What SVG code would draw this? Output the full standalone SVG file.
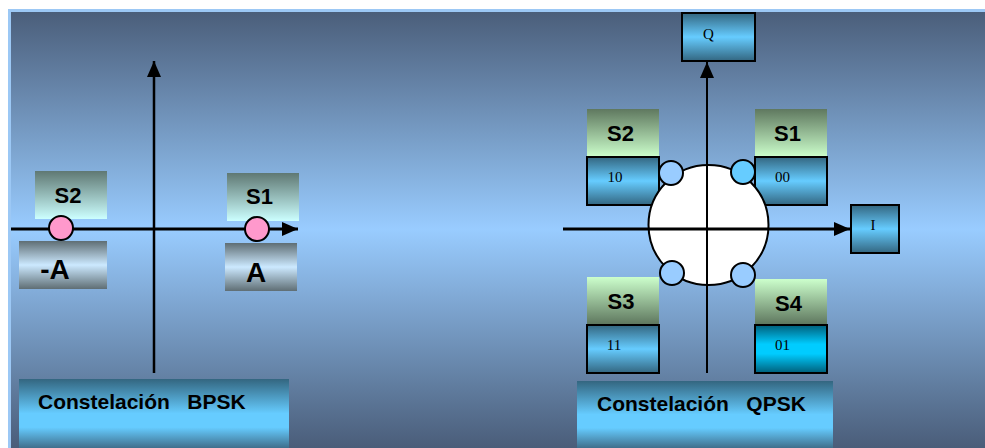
<svg xmlns="http://www.w3.org/2000/svg" width="985" height="448" viewBox="0 0 985 448">
<style>
.lbl{font-family:"Liberation Sans",Arial,sans-serif;font-weight:bold;fill:#000;text-anchor:middle}
.s{font-size:22px}
.big{font-size:28px}
.title{font-family:"Liberation Sans",Arial,sans-serif;font-weight:bold;font-size:21px;fill:#000}
.num{font-family:"Liberation Serif","Times New Roman",serif;font-size:15px;fill:#000;text-anchor:middle}
.code{stroke:#000;stroke-width:2}
.axis{stroke:#000;fill:none}
.dot{stroke:#000;stroke-width:2}
</style>
<defs>
<linearGradient id="bg" x1="0" y1="10" x2="0" y2="448" gradientUnits="userSpaceOnUse">
<stop offset="0" stop-color="#4a5d79"/>
<stop offset="0.5" stop-color="#99ccff"/>
<stop offset="1" stop-color="#4a5d79"/>
</linearGradient>
<linearGradient id="sTeal" x1="0" y1="0" x2="0" y2="1">
<stop offset="0" stop-color="#5f7873"/>
<stop offset="1" stop-color="#ccffff"/>
</linearGradient>
<linearGradient id="amp" x1="0" y1="0" x2="0" y2="1">
<stop offset="0" stop-color="#5f6e74"/>
<stop offset="0.5" stop-color="#cce9ff"/>
<stop offset="1" stop-color="#5f6e74"/>
</linearGradient>
<linearGradient id="sGreenDown" x1="0" y1="0" x2="0" y2="1">
<stop offset="0" stop-color="#5f785f"/>
<stop offset="1" stop-color="#ccffcc"/>
</linearGradient>
<linearGradient id="sGreenUp" x1="0" y1="0" x2="0" y2="1">
<stop offset="0" stop-color="#ccffcc"/>
<stop offset="1" stop-color="#5f785f"/>
</linearGradient>
<linearGradient id="blue" x1="0" y1="0" x2="0" y2="1">
<stop offset="0" stop-color="#336680"/>
<stop offset="0.5" stop-color="#66ccff"/>
<stop offset="1" stop-color="#336680"/>
</linearGradient>
<linearGradient id="cyan" x1="0" y1="0" x2="0" y2="1">
<stop offset="0" stop-color="#005f7a"/>
<stop offset="0.4" stop-color="#00ccff"/>
<stop offset="0.6" stop-color="#00ccff"/>
<stop offset="1" stop-color="#005f7a"/>
</linearGradient>
<linearGradient id="titleG" x1="0" y1="0" x2="0" y2="1">
<stop offset="0" stop-color="#336680"/>
<stop offset="0.5" stop-color="#66ccff"/>
<stop offset="0.7" stop-color="#66ccff"/>
<stop offset="1" stop-color="#3f6f8c"/>
</linearGradient>
<marker id="arr" viewBox="0 0 16 14" refX="16" refY="7" markerWidth="16" markerHeight="14" markerUnits="userSpaceOnUse" orient="auto">
<path d="M0,0 L16,7 L0,14 Z" fill="#000"/>
</marker>
</defs>

<rect x="0" y="0" width="985" height="448" fill="#fff"/>
<rect x="9.5" y="10.5" width="980" height="445" fill="url(#bg)" stroke="#9cc8f5" stroke-width="3"/>

<!-- BPSK nodes -->
<g id="bpsk-s2"><rect x="35" y="171" width="72" height="48" fill="url(#sTeal)"/><text class="lbl s" x="68" y="203">S2</text></g>
<g id="bpsk-s1"><rect x="227" y="173" width="72" height="48" fill="url(#sTeal)"/><text class="lbl s" x="259.5" y="204">S1</text></g>
<g id="bpsk-minusA"><rect x="19" y="241" width="88" height="48" fill="url(#amp)"/><text class="lbl big" x="55" y="279">-A</text></g>
<g id="bpsk-A"><rect x="225" y="243" width="72" height="48" fill="url(#amp)"/><text class="lbl big" x="256" y="282">A</text></g>
<g id="bpsk-title"><rect x="19" y="379" width="270" height="69" fill="url(#titleG)"/><text class="title" x="38" y="409" xml:space="preserve">Constelación   BPSK</text></g>

<!-- QPSK nodes -->
<g id="qpsk-Q"><rect x="682" y="13" width="73" height="48" class="code" fill="url(#blue)"/><text class="num" x="708.5" y="39">Q</text></g>
<g id="qpsk-I"><rect x="851" y="205" width="48" height="48" class="code" fill="url(#blue)"/><text class="num" x="873" y="230">I</text></g>
<g id="qpsk-s2"><rect x="587" y="109" width="72" height="48" fill="url(#sGreenDown)"/><text class="lbl s" x="620.5" y="141">S2</text></g>
<g id="qpsk-10"><rect x="587" y="157" width="72" height="48" class="code" fill="url(#blue)"/><text class="num" x="615" y="182">10</text></g>
<g id="qpsk-s1"><rect x="755" y="109" width="72" height="48" fill="url(#sGreenDown)"/><text class="lbl s" x="787.5" y="141">S1</text></g>
<g id="qpsk-00"><rect x="755" y="157" width="72" height="48" class="code" fill="url(#blue)"/><text class="num" x="782.5" y="182">00</text></g>
<g id="qpsk-s3"><rect x="587" y="277" width="72" height="47" fill="url(#sGreenUp)"/><text class="lbl s" x="621" y="309">S3</text></g>
<g id="qpsk-11"><rect x="587" y="325" width="72" height="48" class="code" fill="url(#blue)"/><text class="num" x="614" y="350">11</text></g>
<g id="qpsk-s4"><rect x="755" y="279" width="72" height="45" fill="url(#sGreenUp)"/><text class="lbl s" x="788.5" y="311">S4</text></g>
<g id="qpsk-01"><rect x="755" y="325" width="72" height="48" class="code" fill="url(#cyan)"/><text class="num" x="782.5" y="350">01</text></g>
<g id="qpsk-title"><rect x="577" y="381" width="256" height="67" fill="url(#titleG)"/><text class="title" x="597" y="411" xml:space="preserve">Constelación   QPSK</text></g>
<g id="qpsk-circle"><circle cx="708.5" cy="225" r="60" fill="#fff" stroke="#000" stroke-width="2"/></g>

<!-- connectors -->
<g id="connectors">
<line class="axis" x1="154" y1="373" x2="154" y2="61" stroke-width="2.5" marker-end="url(#arr)"/>
<line class="axis" x1="11" y1="229" x2="298" y2="229" stroke-width="3" marker-end="url(#arr)"/>
<line class="axis" x1="707" y1="373" x2="707" y2="62" stroke-width="2" marker-end="url(#arr)"/>
<line class="axis" x1="563" y1="229" x2="850" y2="229" stroke-width="3" marker-end="url(#arr)"/>
</g>

<!-- constellation points -->
<g id="bpsk-dot-s2"><circle class="dot" cx="61" cy="228" r="12" fill="#ff99cc"/></g>
<g id="bpsk-dot-s1"><circle class="dot" cx="257" cy="229" r="12" fill="#ff99cc"/></g>
<g id="qpsk-dot-s2"><circle class="dot" cx="671" cy="173" r="12" fill="#99ccff"/></g>
<g id="qpsk-dot-s1"><circle class="dot" cx="743" cy="172" r="12" fill="#66ccff"/></g>
<g id="qpsk-dot-s3"><circle class="dot" cx="672" cy="273" r="12" fill="#99ccff"/></g>
<g id="qpsk-dot-s4"><circle class="dot" cx="743" cy="275" r="12" fill="#99ccff"/></g>
</svg>
